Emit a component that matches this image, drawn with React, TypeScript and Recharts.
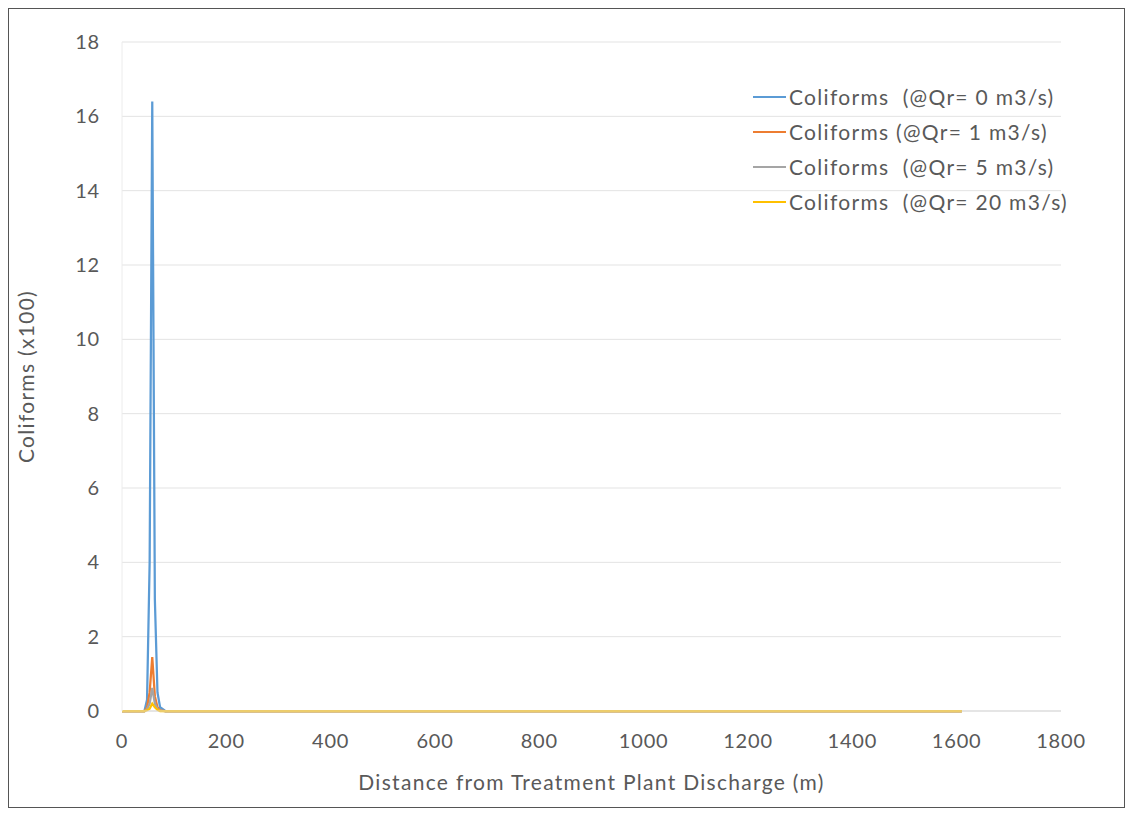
import { LineChart, Line, XAxis, YAxis, CartesianGrid } from 'recharts';

// distance from discharge (m)
const distances = [0, 30, 43, 48, 53, 58, 63, 68, 73, 83, 100, 400, 800, 1200, 1610];

// coliforms (x100) per river flow
const qr0 = [0, 0, 0, 0.3, 4, 16.4, 3, 0.5, 0.1, 0, 0, 0, 0, 0, 0];
const qr1 = [0, 0, 0, 0.1, 0.5, 1.45, 0.4, 0.1, 0.02, 0, 0, 0, 0, 0, 0];
const qr5 = [0, 0, 0, 0.05, 0.2, 0.62, 0.2, 0.05, 0.01, 0, 0, 0, 0, 0, 0];
const qr20 = [0, 0, 0, 0.02, 0.06, 0.2, 0.1, 0.03, 0, 0, 0, 0, 0, 0, 0];

const xTicks = [0, 200, 400, 600, 800, 1000, 1200, 1400, 1600, 1800];
const yTicks = [0, 2, 4, 6, 8, 10, 12, 14, 16, 18];

const series = [
  { key: 'qr0', name: 'Coliforms  (@Qr= 0 m3/s)', color: '#5b9bd5' },
  { key: 'qr1', name: 'Coliforms (@Qr= 1 m3/s)', color: '#ed7d31' },
  { key: 'qr5', name: 'Coliforms  (@Qr= 5 m3/s)', color: '#a5a5a5' },
  { key: 'qr20', name: 'Coliforms  (@Qr= 20 m3/s)', color: '#ffc000' },
];

const data = distances.map((d, i) => ({
  distance: d,
  qr0: qr0[i],
  qr1: qr1[i],
  qr5: qr5[i],
  qr20: qr20[i],
}));

const FONT = 'Lato, "Open Sans", sans-serif';
const TEXT = '#595959';

export default function App() {
  return (
    <div style={{ position: 'relative', width: 1115, height: 798, border: '1px solid #555', background: '#fff' }}>
      <LineChart
        width={1115}
        height={798}
        data={data}
        margin={{ top: 33, right: 63, left: 30, bottom: 17 }}
      >
        <CartesianGrid vertical={false} stroke="#e3e3e3" />
        <XAxis
          dataKey="distance"
          type="number"
          domain={[0, 1800]}
          ticks={xTicks}
          interval={0}
          stroke="#d9d9d9"
          tickLine={false}
          tickMargin={17}
          height={79}
          tick={{ fill: TEXT, fontSize: 20, fontFamily: FONT, letterSpacing: 0.8 }}
          label={{
            value: 'Distance from Treatment Plant Discharge (m)',
            position: 'insideBottom',
            offset: 0,
            fill: TEXT,
            fontSize: 21,
            fontFamily: FONT,
            style: { letterSpacing: '1.3px' },
          }}
        />
        <YAxis
          type="number"
          domain={[0, 18]}
          ticks={yTicks}
          interval={0}
          width={83}
          stroke="#ececec"
          tickLine={false}
          tickMargin={16}
          tick={{ fill: TEXT, fontSize: 20, fontFamily: FONT, letterSpacing: 0.8 }}
          label={{
            value: 'Coliforms (x100)',
            angle: -90,
            position: 'insideLeft',
            offset: -12,
            style: { textAnchor: 'middle', letterSpacing: '1.3px' },
            fill: TEXT,
            fontSize: 21,
            fontFamily: FONT,
          }}
        />
        {series.map((s) => (
          <Line
            key={s.key}
            type="linear"
            dataKey={s.key}
            name={s.name}
            stroke={s.color}
            strokeWidth={2.25}
            dot={false}
            isAnimationActive={false}
          />
        ))}
      </LineChart>
      <div
        style={{
          position: 'absolute',
          left: 744,
          top: 70,
          fontFamily: FONT,
          fontSize: 21,
          letterSpacing: '1.3px',
          color: TEXT,
        }}
      >
        {series.map((s) => (
          <div key={s.key} style={{ display: 'flex', alignItems: 'center', height: 35 }}>
            <div style={{ width: 33, height: 2, background: s.color, marginRight: 3 }} />
            <span style={{ whiteSpace: 'pre' }}>{s.name}</span>
          </div>
        ))}
      </div>
    </div>
  );
}
